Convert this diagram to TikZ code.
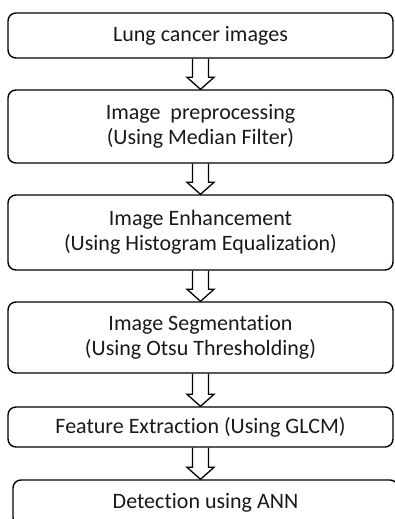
\documentclass[tikz,border=0pt]{standalone}
\usepackage{fontspec}
\setmainfont[Ligatures=NoCommon]{Carlito}
\usetikzlibrary{calc}
\tikzset{
  stage/.style={draw, line width=1.4pt, rounded corners=8pt, align=center,
    font=\fontsize{22}{24.5}\selectfont, inner sep=0pt, text=black!90},
  blockarrow/.style={draw, line width=1.3pt, line join=miter}
}
\newcommand{\flowarrow}[2]{%
  \draw[blockarrow] let \p1=(#1.south), \p2=(#2.north) in
    (\x1-8pt,\y1) -- (\x1-8pt,\y2+12pt) -- (\x1-13.5pt,\y2+12pt) -- (\x1,\y2)
    -- (\x1+13.5pt,\y2+12pt) -- (\x1+8pt,\y2+12pt) -- (\x1+8pt,\y1);}
\begin{document}
\begin{tikzpicture}[x=1pt,y=-1pt]
  \useasboundingbox (0,0) rectangle (395,519);
  \clip (0,0) rectangle (395,519);
  \node[stage, minimum width=385pt, minimum height=45pt] (s1) at (200.5,35.5) {Lung cancer images};
  \node[stage, minimum width=385pt, minimum height=73pt] (s2) at (200.5,126.5) {Image\ \ preprocessing\\(Using Median Filter)};
  \node[stage, minimum width=385pt, minimum height=75pt] (s3) at (200.5,232.5) {Image Enhancement\\(Using Histogram Equalization)};
  \node[stage, minimum width=385pt, minimum height=71pt] (s4) at (200.5,337.5) {Image Segmentation\\(Using Otsu Thresholding)};
  \node[stage, minimum width=385pt, minimum height=40pt] (s5) at (200.5,427) {Feature Extraction (Using GLCM)};
  \node[stage, minimum width=385pt, minimum height=46pt] (s6) at (205.5,503) {Detection using ANN};
  \flowarrow{s1}{s2}
  \flowarrow{s2}{s3}
  \flowarrow{s3}{s4}
  \flowarrow{s4}{s5}
  \flowarrow{s5}{s6}
\end{tikzpicture}
\end{document}
